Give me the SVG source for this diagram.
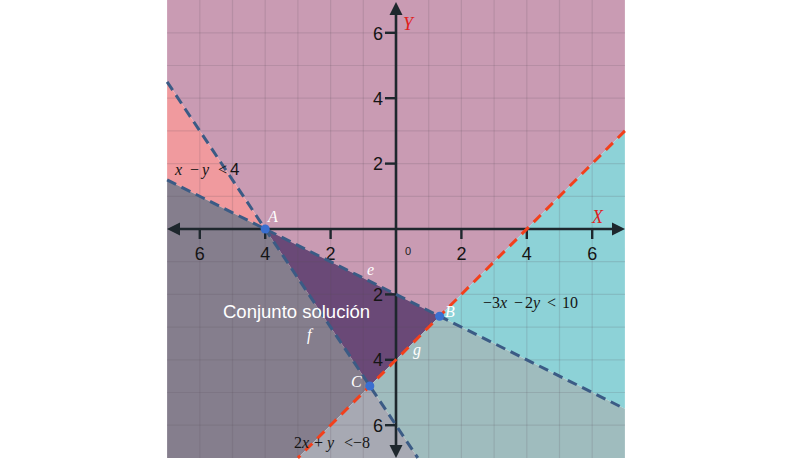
<svg xmlns="http://www.w3.org/2000/svg" width="800" height="460" viewBox="0 0 800 460">
<style>
.grid line{stroke:#5a4a55;stroke-opacity:0.16;stroke-width:1.2}
.ax{stroke:#1e272d;stroke-width:2.6;fill:none}
.tk{stroke:#1e272d;stroke-width:2.4}
.num{font-family:"Liberation Sans",Arial,sans-serif;font-size:18px;fill:#151515}
.bl{stroke:#3b5b85;stroke-width:3;stroke-dasharray:10 6;fill:none}
.rd{stroke:#f2401c;stroke-width:3;stroke-dasharray:10 7;fill:none}
.pt{fill:#3a6fd0}
.wl{font-family:"Liberation Serif","Times New Roman",serif;font-style:italic;font-size:16px;fill:#ffffff}
.eq{font-family:"Liberation Serif","Times New Roman",serif;font-size:16px;fill:#151515}
.it{font-style:italic}
.ax-l{font-family:"Liberation Serif","Times New Roman",serif;font-style:italic;font-size:18px;fill:#e0201c}
</style>
<rect width="800" height="460" fill="#ffffff"/>
<g id="regions">
<polygon points="167.1,0 624.9,0 624.9,130.9 439.6,316.2 265.2,229 167.1,81.85" fill="#c99bb3"/>
<polygon points="265.2,229 167.1,81.85 167.1,179.95" fill="#f09a9e"/>
<polygon points="167.1,179.95 265.2,229 369.84,385.96 297.9,457.9 167.1,457.9" fill="#857e8d"/>
<polygon points="265.2,229 439.6,316.2 369.84,385.96" fill="#6a4977"/>
<polygon points="439.6,316.2 624.9,130.9 624.9,408.85" fill="#8dd2d7"/>
<polygon points="439.6,316.2 624.9,408.85 624.9,457.9 417.8,457.9 369.84,385.96" fill="#9fbcbe"/>
<polygon points="369.84,385.96 297.9,457.9 417.8,457.9" fill="#a7a9b3"/>
</g>
<g id="grid" class="grid">
<line x1="199.8" y1="0" x2="199.8" y2="458"/><line x1="232.5" y1="0" x2="232.5" y2="458"/><line x1="265.2" y1="0" x2="265.2" y2="458"/><line x1="297.9" y1="0" x2="297.9" y2="458"/><line x1="330.6" y1="0" x2="330.6" y2="458"/><line x1="363.3" y1="0" x2="363.3" y2="458"/><line x1="428.7" y1="0" x2="428.7" y2="458"/><line x1="461.4" y1="0" x2="461.4" y2="458"/><line x1="494.1" y1="0" x2="494.1" y2="458"/><line x1="526.8" y1="0" x2="526.8" y2="458"/><line x1="559.5" y1="0" x2="559.5" y2="458"/><line x1="592.2" y1="0" x2="592.2" y2="458"/>
<line x1="167" y1="32.8" x2="625" y2="32.8"/><line x1="167" y1="65.5" x2="625" y2="65.5"/><line x1="167" y1="98.2" x2="625" y2="98.2"/><line x1="167" y1="130.9" x2="625" y2="130.9"/><line x1="167" y1="163.6" x2="625" y2="163.6"/><line x1="167" y1="196.3" x2="625" y2="196.3"/><line x1="167" y1="261.7" x2="625" y2="261.7"/><line x1="167" y1="294.4" x2="625" y2="294.4"/><line x1="167" y1="327.1" x2="625" y2="327.1"/><line x1="167" y1="359.8" x2="625" y2="359.8"/><line x1="167" y1="392.5" x2="625" y2="392.5"/><line x1="167" y1="425.2" x2="625" y2="425.2"/>
</g>
<g id="axes">
<line class="ax" x1="176" y1="229" x2="616" y2="229"/>
<line class="ax" x1="396" y1="12" x2="396" y2="448"/>
<polygon points="167,229 180,222.5 180,235.5" fill="#1e272d"/>
<polygon points="625,229 612,222.5 612,235.5" fill="#1e272d"/>
<polygon points="396,2 389.5,15 402.5,15" fill="#1e272d"/>
<polygon points="396,458 389.5,445 402.5,445" fill="#1e272d"/>
<line class="tk" x1="199.8" y1="229" x2="199.8" y2="239"/><line class="tk" x1="265.2" y1="229" x2="265.2" y2="239"/><line class="tk" x1="330.6" y1="229" x2="330.6" y2="239"/><line class="tk" x1="461.4" y1="229" x2="461.4" y2="239"/><line class="tk" x1="526.8" y1="229" x2="526.8" y2="239"/><line class="tk" x1="592.2" y1="229" x2="592.2" y2="239"/>
<line class="tk" x1="385" y1="32.8" x2="396" y2="32.8"/><line class="tk" x1="385" y1="98.2" x2="396" y2="98.2"/><line class="tk" x1="385" y1="163.6" x2="396" y2="163.6"/><line class="tk" x1="385" y1="294.4" x2="396" y2="294.4"/><line class="tk" x1="385" y1="359.8" x2="396" y2="359.8"/><line class="tk" x1="385" y1="425.2" x2="396" y2="425.2"/>
<g class="num" text-anchor="middle">
<text x="199.8" y="260">6</text><text x="265.2" y="260">4</text><text x="330.6" y="260">2</text><text x="461.4" y="260">2</text><text x="526.8" y="260">4</text><text x="592.2" y="260">6</text>
</g>
<g class="num" text-anchor="end">
<text x="383" y="40">6</text><text x="383" y="105">4</text><text x="383" y="170">2</text><text x="383" y="301">2</text><text x="383" y="366">4</text><text x="383" y="432">6</text>
</g>
<text x="408" y="255" text-anchor="middle" style="font-family:'Liberation Sans',Arial,sans-serif;font-size:11px;fill:#222">0</text>
<text class="ax-l" x="403" y="30">Y</text>
<text class="ax-l" x="592" y="223">X</text>
</g>
<g id="connectors">
<line id="line-e" class="bl" x1="167.1" y1="179.95" x2="624.9" y2="408.85"/>
<line id="line-f" class="bl" x1="167.1" y1="81.85" x2="417.8" y2="457.9"/>
<line id="line-g" class="rd" x1="624.9" y1="130.9" x2="297.9" y2="457.9"/>
</g>
<g id="point-A"><circle class="pt" cx="265.2" cy="229" r="4.5"/><text class="wl" x="268" y="222">A</text></g>
<g id="point-B"><circle class="pt" cx="439.6" cy="316.2" r="4.5"/><text class="wl" x="445" y="317">B</text></g>
<g id="point-C"><circle class="pt" cx="369.84" cy="385.96" r="4.5"/><text class="wl" x="351" y="387">C</text></g>
<g id="labels">
<text class="wl" x="367" y="275">e</text>
<text class="wl" x="307" y="340">f</text>
<text class="wl" x="413" y="355">g</text>
<text x="223" y="318" style="font-family:'Liberation Sans',Arial,sans-serif;font-size:18.5px;fill:#ffffff">Conjunto solución</text>
<text class="eq" y="175"><tspan class="it" x="175">x</tspan><tspan x="190">−</tspan><tspan class="it" x="202">y</tspan><tspan x="218">&lt;</tspan><tspan x="230" font-family="Liberation Sans,Arial,sans-serif" font-size="17">4</tspan></text>
<text class="eq" y="308"><tspan x="483">−</tspan><tspan x="492">3</tspan><tspan class="it" x="500">x</tspan><tspan x="514">−</tspan><tspan x="525">2</tspan><tspan class="it">y</tspan><tspan x="547">&lt;</tspan><tspan x="562">10</tspan></text>
<text class="eq" y="448"><tspan x="294">2</tspan><tspan class="it">x</tspan><tspan x="314">+</tspan><tspan class="it" x="327">y</tspan><tspan x="344">&lt;</tspan><tspan x="353">−8</tspan></text>
</g>
</svg>
